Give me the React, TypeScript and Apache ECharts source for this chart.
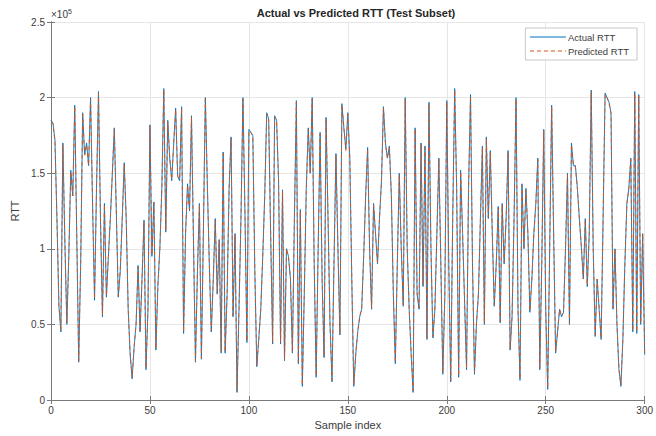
import React, { useEffect, useRef } from "react";
import * as echarts from "echarts";

// RTT values in units of 1e5 (axis shows ×10^5)
const actualRtt: number[] = [
  1.85, 1.83, 1.72, 1.20, 0.62, 0.45, 1.70, 1.05, 0.50, 0.95,
  1.52, 1.35, 1.95, 1.10, 0.25, 0.90, 1.90, 1.62, 1.70, 1.55,
  2.00, 1.30, 0.66, 1.40, 2.04, 1.20, 0.55, 1.30, 0.68, 0.95,
  1.20, 1.50, 1.80, 1.25, 0.68, 0.85, 1.20, 1.57, 1.20, 0.60,
  0.30, 0.14, 0.35, 0.50, 0.89, 0.45, 0.80, 1.19, 0.20, 0.60,
  1.82, 0.95, 1.31, 0.33, 0.75, 1.00, 1.40, 2.06, 1.11, 1.85,
  1.60, 1.45, 1.70, 1.93, 1.48, 1.45, 1.94, 0.44, 1.10, 1.43,
  1.25, 1.88, 1.05, 0.25, 0.85, 1.30, 0.27, 1.10, 2.00, 1.43,
  0.90, 0.45, 0.80, 1.20, 0.70, 1.06, 0.31, 1.64, 0.31, 0.70,
  1.40, 1.74, 0.55, 1.10, 0.05, 0.60, 1.20, 2.00, 1.25, 0.38,
  1.79, 1.77, 1.75, 0.85, 0.22, 0.40, 0.60, 0.95, 1.35, 1.90,
  1.86, 1.10, 0.37, 1.88, 1.85, 1.45, 0.37, 1.39, 0.26, 1.00,
  0.95, 0.80, 0.31, 1.20, 1.98, 0.24, 1.26, 0.09, 0.70, 1.40,
  1.80, 1.50, 2.00, 0.90, 0.15, 1.00, 1.77, 0.80, 0.28, 1.87,
  1.20, 0.50, 0.12, 0.90, 1.63, 1.00, 0.43, 1.96, 1.80, 1.66,
  1.90, 1.60, 0.80, 0.09, 0.30, 0.45, 0.55, 0.60, 0.95, 1.35,
  1.67, 1.00, 0.60, 1.30, 1.10, 0.90, 1.20, 1.45, 1.94, 1.70,
  1.60, 1.68, 1.35, 0.70, 0.24, 0.90, 1.50, 1.00, 0.62, 2.00,
  1.00, 0.60, 0.30, 0.05, 1.80, 0.70, 0.60, 1.70, 0.75, 1.68,
  0.40, 1.97, 1.00, 0.41, 0.60, 1.10, 1.60, 0.90, 0.17, 0.68,
  1.98, 0.90, 0.12, 1.20, 2.06, 1.40, 0.15, 1.52, 1.10, 0.65,
  0.20, 1.40, 2.02, 0.90, 0.17, 0.50, 0.70, 1.20, 1.68, 0.50,
  1.74, 1.20, 1.65, 1.10, 0.62, 0.90, 1.28, 0.51, 1.30, 0.90,
  1.20, 1.65, 0.33, 0.55, 1.20, 2.00, 0.60, 0.13, 1.43, 1.00,
  1.40, 1.10, 0.58, 0.80, 1.10, 1.30, 1.60, 0.20, 0.90, 1.79,
  0.60, 0.07, 1.00, 1.95, 1.10, 0.31, 0.45, 0.60, 0.55, 0.58,
  1.00, 1.50, 0.50, 1.70, 1.55, 1.55, 1.40, 1.20, 1.01, 0.80,
  1.20, 0.75, 1.10, 2.05, 1.00, 0.42, 0.80, 0.60, 0.40, 1.20,
  2.03, 2.00, 1.97, 1.90, 0.60, 1.00, 0.50, 0.20, 0.09, 0.40,
  0.90, 1.30, 1.40, 1.60, 0.45, 2.04, 0.44, 2.02, 0.50, 1.10,
  0.30,
];

const predictedRtt: number[] = [
  1.84, 1.83, 1.71, 1.21, 0.63, 0.46, 1.69, 1.06, 0.51, 0.95,
  1.51, 1.35, 1.94, 1.11, 0.26, 0.91, 1.89, 1.62, 1.69, 1.55,
  1.99, 1.31, 0.67, 1.40, 2.03, 1.21, 0.56, 1.29, 0.69, 0.95,
  1.21, 1.50, 1.79, 1.25, 0.69, 0.86, 1.20, 1.56, 1.21, 0.61,
  0.31, 0.15, 0.35, 0.51, 0.88, 0.46, 0.80, 1.18, 0.21, 0.60,
  1.81, 0.96, 1.30, 0.34, 0.75, 1.00, 1.39, 2.05, 1.12, 1.84,
  1.60, 1.46, 1.69, 1.92, 1.48, 1.46, 1.93, 0.45, 1.10, 1.42,
  1.26, 1.87, 1.06, 0.26, 0.85, 1.29, 0.28, 1.11, 1.99, 1.43,
  0.91, 0.46, 0.80, 1.19, 0.71, 1.06, 0.32, 1.63, 0.32, 0.71,
  1.39, 1.73, 0.56, 1.10, 0.06, 0.61, 1.20, 1.99, 1.25, 0.39,
  1.78, 1.77, 1.74, 0.86, 0.23, 0.41, 0.60, 0.95, 1.34, 1.89,
  1.85, 1.11, 0.38, 1.87, 1.85, 1.45, 0.38, 1.38, 0.27, 1.00,
  0.95, 0.81, 0.32, 1.20, 1.97, 0.25, 1.25, 0.10, 0.71, 1.39,
  1.79, 1.50, 1.99, 0.91, 0.16, 1.00, 1.76, 0.81, 0.29, 1.86,
  1.21, 0.51, 0.13, 0.90, 1.62, 1.01, 0.44, 1.95, 1.80, 1.65,
  1.89, 1.60, 0.81, 0.10, 0.31, 0.45, 0.55, 0.61, 0.95, 1.34,
  1.66, 1.01, 0.61, 1.29, 1.10, 0.91, 1.20, 1.44, 1.93, 1.70,
  1.60, 1.67, 1.35, 0.71, 0.25, 0.90, 1.49, 1.01, 0.63, 1.99,
  1.01, 0.61, 0.31, 0.06, 1.79, 0.71, 0.61, 1.69, 0.76, 1.67,
  0.41, 1.96, 1.01, 0.42, 0.61, 1.10, 1.59, 0.91, 0.18, 0.69,
  1.97, 0.91, 0.13, 1.20, 2.05, 1.40, 0.16, 1.51, 1.10, 0.66,
  0.21, 1.39, 2.01, 0.91, 0.18, 0.51, 0.70, 1.20, 1.67, 0.51,
  1.73, 1.21, 1.64, 1.10, 0.63, 0.90, 1.27, 0.52, 1.29, 0.91,
  1.20, 1.64, 0.34, 0.56, 1.20, 1.99, 0.61, 0.14, 1.42, 1.01,
  1.39, 1.10, 0.59, 0.80, 1.10, 1.29, 1.59, 0.21, 0.90, 1.78,
  0.61, 0.08, 1.00, 1.94, 1.11, 0.32, 0.46, 0.60, 0.56, 0.58,
  1.00, 1.49, 0.51, 1.69, 1.55, 1.54, 1.40, 1.20, 1.02, 0.80,
  1.19, 0.76, 1.10, 2.04, 1.01, 0.43, 0.80, 0.61, 0.41, 1.20,
  2.02, 2.00, 1.96, 1.89, 0.61, 1.00, 0.51, 0.21, 0.10, 0.41,
  0.90, 1.29, 1.40, 1.59, 0.46, 2.03, 0.45, 2.01, 0.51, 1.10,
  0.31,
];

const xTicks = { min: 0, max: 300, interval: 50 };
const yTicks = { min: 0, max: 2.5, interval: 0.5 };

const FONT = "'Liberation Sans', Arial, Helvetica, sans-serif";
const BLUE = "#0072BD";
const ORANGE = "#D95319";
const AXIS = "#7a7a7a";
const GRID = "#e6e6e6";
const TEXT = "#3c3c3c";

export default function App() {
  const ref = useRef<HTMLDivElement>(null);

  useEffect(() => {
    if (!ref.current) return;
    const chart = echarts.init(ref.current, undefined, { renderer: "svg" });

    const actualPts = actualRtt.map((v, i) => [i, v]);
    const predictedPts = predictedRtt.map((v, i) => [i, v]);

    const boxAxisX = {
      type: "value" as const,
      min: xTicks.min,
      max: xTicks.max,
      interval: xTicks.interval,
      axisLine: { show: true, lineStyle: { color: AXIS, width: 1 } },
      axisTick: { show: true, inside: true, length: 4, lineStyle: { color: AXIS } },
      splitLine: { show: false },
    };
    const boxAxisY = {
      type: "value" as const,
      min: yTicks.min,
      max: yTicks.max,
      interval: yTicks.interval,
      axisLine: { show: true, lineStyle: { color: AXIS, width: 1 } },
      axisTick: { show: true, inside: true, length: 4, lineStyle: { color: AXIS } },
      splitLine: { show: false },
    };

    chart.setOption({
      animation: false,
      backgroundColor: "#ffffff",
      textStyle: { fontFamily: FONT },
      title: {
        text: "Actual vs Predicted RTT (Test Subset)",
        left: 351,
        textAlign: "center",
        top: 2,
        textStyle: { fontFamily: FONT, fontSize: 11, fontWeight: "bold", color: "#262626" },
      },
      legend: {
        orient: "vertical",
        right: 19,
        top: 28,
        backgroundColor: "#ffffff",
        borderColor: "#c8c8c8",
        borderWidth: 1,
        borderRadius: 0,
        padding: [4, 8, 4, 4],
        itemGap: 4,
        itemWidth: 36,
        itemHeight: 10,
        itemStyle: { opacity: 0 },
        textStyle: { fontFamily: FONT, fontSize: 9.5, color: TEXT, padding: [0, 0, 0, -3] },
        data: [
          { name: "Actual RTT", lineStyle: { color: BLUE, width: 1.2, type: "solid" } },
          { name: "Predicted RTT", lineStyle: { color: ORANGE, width: 1.2, type: [4, 3] } },
        ],
      },
      grid: { left: 51, right: 5, top: 22, bottom: 36, containLabel: false },
      xAxis: [
        {
          ...boxAxisX,
          position: "bottom",
          name: "Sample index",
          nameLocation: "middle",
          nameGap: 18,
          nameTextStyle: { fontFamily: FONT, fontSize: 11, color: TEXT },
          axisLabel: { show: true, fontFamily: FONT, fontSize: 10, color: TEXT, margin: 5 },
          splitLine: { show: true, lineStyle: { color: GRID, width: 1 } },
        },
        { ...boxAxisX, position: "top", axisLabel: { show: false } },
      ],
      yAxis: [
        {
          ...boxAxisY,
          position: "left",
          name: "RTT",
          nameLocation: "middle",
          nameGap: 30,
          nameRotate: 90,
          nameTextStyle: { fontFamily: FONT, fontSize: 11, color: TEXT },
          axisLabel: { show: true, fontFamily: FONT, fontSize: 10, color: TEXT, margin: 6 },
          splitLine: { show: true, lineStyle: { color: GRID, width: 1 } },
        },
        { ...boxAxisY, position: "right", axisLabel: { show: false } },
      ],
      graphic: [
        {
          type: "text",
          left: 51,
          top: 8,
          style: {
            text: "{b|×10}{s|5}",
            rich: {
              b: { fontFamily: FONT, fontSize: 10, fill: TEXT },
              s: { fontFamily: FONT, fontSize: 7, fill: TEXT, verticalAlign: "top", padding: [0, 0, 5, 0] },
            },
          },
        },
      ],
      series: [
        {
          name: "Actual RTT",
          type: "line",
          data: actualPts,
          showSymbol: false,
          symbol: "none",
          lineStyle: { color: BLUE, width: 0.9, type: "solid" },
          itemStyle: { color: BLUE },
        },
        {
          name: "Predicted RTT",
          type: "line",
          data: predictedPts,
          showSymbol: false,
          symbol: "none",
          lineStyle: { color: ORANGE, width: 0.9, type: [4, 3] },
          itemStyle: { color: ORANGE },
        },
      ],
    });

    return () => chart.dispose();
  }, []);

  return (
    <div
      ref={ref}
      style={{ position: "fixed", left: 0, top: 0, width: 656, height: 436 }}
    />
  );
}
